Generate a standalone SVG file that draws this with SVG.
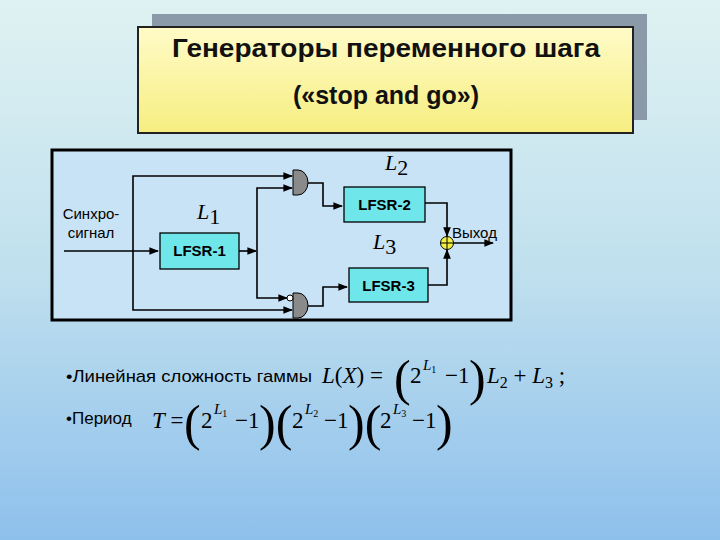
<svg xmlns="http://www.w3.org/2000/svg" width="720" height="540" viewBox="0 0 720 540">
<defs>
<linearGradient id="bg" x1="0" y1="0" x2="0" y2="1"><stop offset="0" stop-color="#dff2f2"/><stop offset="0.5" stop-color="#c0e0ee"/><stop offset="1" stop-color="#8ec0ec"/></linearGradient>
<linearGradient id="tb" x1="0" y1="0" x2="0" y2="1"><stop offset="0" stop-color="#fffbc8"/><stop offset="1" stop-color="#f6ee80"/></linearGradient>
<marker id="a" viewBox="0 0 10 10" refX="9" refY="5" markerWidth="6" markerHeight="6" orient="auto"><path d="M0,1 L10,5 L0,9 z" fill="#000"/></marker>
<style>
.w{fill:none;stroke:#000;stroke-width:1.6}
.box{fill:#6fe6ea;stroke:#000;stroke-width:1.3}
.bt{font:bold 15px "Liberation Sans",Arial,sans-serif;text-anchor:middle}
.s{font:15px "Liberation Sans",Arial,sans-serif}
.s2{font:17px "Liberation Sans",Arial,sans-serif}
.m{font:italic 22px "Liberation Serif",serif}
.f{font:23px "Liberation Serif",serif}
.fi{font:italic 23px "Liberation Serif",serif}
.sub{font:16px "Liberation Serif",serif}
.sup{font:italic 15px "Liberation Serif",serif}
.p{font:50px "Liberation Serif",serif}
.gate{fill:#8a8a8a;stroke:#000;stroke-width:1}
.tt{font:bold 25px "Liberation Sans",Arial,sans-serif;fill:#111;text-anchor:middle}
</style>
</defs>
<rect width="720" height="540" fill="url(#bg)"/>
<g id="title">
<rect x="152" y="14" width="495" height="106" fill="#8a9aa8"/>
<rect x="138" y="27" width="495" height="106" fill="url(#tb)" stroke="#222" stroke-width="2"/>
<text class="tt" x="386" y="57" textLength="428" lengthAdjust="spacingAndGlyphs">Генераторы переменного шага</text>
<text class="tt" x="386" y="104">(«stop and go»)</text>
</g>
<g id="frame"><rect x="52" y="150" width="459" height="170" fill="#c8e2f6" stroke="#000" stroke-width="3"/></g>
<g id="connectors">
<path class="w" d="M64,251 H158" marker-end="url(#a)"/>
<path class="w" d="M133,251 V176 H292" marker-end="url(#a)"/>
<path class="w" d="M133,251 V310 H292" marker-end="url(#a)"/>
<path class="w" d="M239,251 H256" marker-end="url(#a)"/>
<path class="w" d="M257,251 V188 H292" marker-end="url(#a)"/>
<path class="w" d="M257,251 V298 H287" marker-end="url(#a)"/>
<path class="w" d="M305,183 H323 V206 H342" marker-end="url(#a)"/>
<path class="w" d="M305,306 H323 V287 H347" marker-end="url(#a)"/>
<path class="w" d="M425,203 H447 V236" marker-end="url(#a)"/>
<path class="w" d="M428,285 H447 V250" marker-end="url(#a)"/>
<path class="w" d="M453,243 H493" marker-end="url(#a)"/>
</g>
<g id="gate1"><path class="gate" d="M293,170 H298 A10,12.5 0 0 1 298,195 H293 Z"/></g>
<g id="gate2"><path class="gate" d="M293,293 H298 A10,12.5 0 0 1 298,318 H293 Z"/><circle cx="290" cy="298" r="3" fill="#fff" stroke="#000"/></g>
<g id="xor"><circle cx="447" cy="243" r="6.5" fill="#f2f040" stroke="#000" stroke-width="1"/><path d="M440.5,243 H453.5 M447,236.5 V249.5" stroke="#000" stroke-width="1"/></g>
<g id="lfsr1"><rect class="box" x="160" y="233" width="79" height="36"/><text class="bt" x="199.5" y="256">LFSR-1</text></g>
<g id="lfsr2"><rect class="box" x="344" y="187" width="81" height="35"/><text class="bt" x="384.5" y="210">LFSR-2</text></g>
<g id="lfsr3"><rect class="box" x="349" y="268" width="79" height="34"/><text class="bt" x="388.5" y="291">LFSR-3</text></g>
<g id="labels">
<text class="s" x="91" y="219" text-anchor="middle">Синхро-</text>
<text class="s" x="91" y="238" text-anchor="middle">сигнал</text>
<text class="s" x="452" y="238">Выход</text>
<text class="m" x="197" y="219">L<tspan style="font:22px 'Liberation Serif',serif" dy="5">1</tspan></text>
<text class="m" x="385" y="170">L<tspan style="font:22px 'Liberation Serif',serif" dy="5">2</tspan></text>
<text class="m" x="373" y="249">L<tspan style="font:22px 'Liberation Serif',serif" dy="5">3</tspan></text>
</g>
<g id="text1">
<text class="s2" x="66" y="382" textLength="246" lengthAdjust="spacingAndGlyphs">•Линейная сложность  гаммы</text>
<text x="322" y="383"><tspan class="fi">L</tspan><tspan class="f">(</tspan><tspan class="fi">X</tspan><tspan class="f">) =</tspan></text>
<text class="p" x="394" y="395">(</text>
<text class="f" x="410" y="383">2</text><text class="sup" x="423" y="370">L<tspan style="font-size:10px;font-style:normal" dy="3">1</tspan></text>
<text class="f" x="445" y="383">−1</text>
<text class="p" x="469" y="395">)</text>
<text class="fi" x="487" y="383">L<tspan class="sub" dy="5">2</tspan><tspan class="f" dy="-5"> + </tspan>L<tspan class="sub" dy="5">3</tspan><tspan class="f" dy="-5">  ;</tspan></text>
</g>
<g id="text2">
<text class="s2" x="66" y="424">•Период</text>
<text x="152" y="428"><tspan class="fi">T</tspan><tspan class="f"> =</tspan></text>
<text class="p" x="184" y="440">(</text>
<text class="f" x="201" y="428">2</text><text class="sup" x="214" y="414">L<tspan style="font-size:10px;font-style:normal" dy="3">1</tspan></text>
<text class="f" x="235" y="428">−1</text>
<text class="p" x="259" y="440">)(</text>
<text class="f" x="292" y="428">2</text><text class="sup" x="305" y="414">L<tspan style="font-size:10px;font-style:normal" dy="3">2</tspan></text>
<text class="f" x="324" y="428">−1</text>
<text class="p" x="348" y="440">)(</text>
<text class="f" x="380" y="428">2</text><text class="sup" x="393" y="414">L<tspan style="font-size:10px;font-style:normal" dy="3">3</tspan></text>
<text class="f" x="412" y="428">−1</text>
<text class="p" x="436" y="440">)</text>
</g>
</svg>
